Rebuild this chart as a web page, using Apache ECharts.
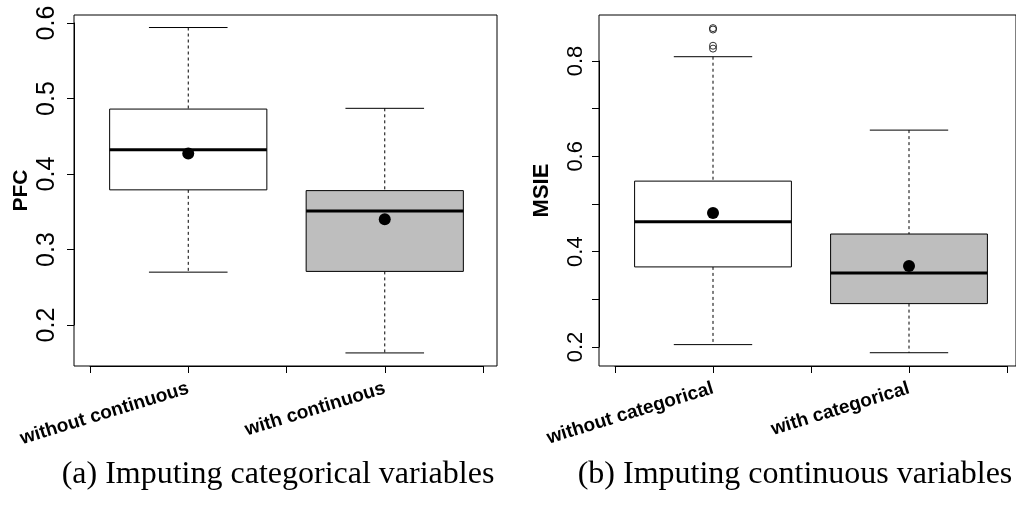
<!DOCTYPE html>
<html>
<head>
<meta charset="utf-8">
<script src="https://cdn.jsdelivr.net/npm/echarts@6/dist/echarts.min.js"></script>
<style>html,body{margin:0;padding:0;background:#fff;}#c{width:1016px;height:520px;}</style>
</head>
<body>
<div id="c"></div>
<script>
// ---- data ----
const categoriesA = ['without continuous', 'with continuous'];
const pfcLow  = [0.270, 0.163];
const pfcQ1   = [0.379, 0.271];
const pfcMed  = [0.432, 0.351];
const pfcQ3   = [0.486, 0.378];
const pfcHigh = [0.594, 0.487];
const pfcMean = [0.427, 0.340];

const categoriesB = ['without categorical', 'with categorical'];
const msieLow  = [0.205, 0.188];
const msieQ1   = [0.368, 0.291];
const msieMed  = [0.463, 0.355];
const msieQ3   = [0.548, 0.437];
const msieHigh = [0.809, 0.655];
const msieMean = [0.481, 0.370];
const msieOutliers = [[1, 0.869], [1, 0.866], [1, 0.832], [1, 0.826]];

const boxFills = ['#ffffff', '#bebebe'];
const yTickLabelsA = ['0.2', '0.3', '0.4', '0.5', '0.6'];
const yTickLabelsB = ['0.2', '0.4', '0.6', '0.8'];
const captions = ['(a) Imputing categorical variables', '(b) Imputing continuous variables'];

// ---- helpers ----
function buildBoxData(low, q1, med, q3, high, mean) {
  return low.map((_, i) => [i + 1, low[i], q1[i], med[i], q3[i], high[i], mean[i]]);
}
function renderBox(params, api) {
  const x = api.value(0);
  const c = v => api.coord([x, v]);
  const pLow = c(api.value(1)), pQ1 = c(api.value(2)), pMed = c(api.value(3)),
        pQ3 = c(api.value(4)), pHigh = c(api.value(5)), pMean = c(api.value(6));
  const cx = pMed[0];
  const halfBox = api.size([0.4, 0])[0];
  const halfCap = api.size([0.2, 0])[0];
  const dash = {stroke: '#000', lineWidth: 1, lineDash: [3, 3]};
  const solid = {stroke: '#000', lineWidth: 1};
  return {
    type: 'group',
    children: [
      {type: 'line', shape: {x1: cx, y1: pHigh[1], x2: cx, y2: pQ3[1]}, style: dash},
      {type: 'line', shape: {x1: cx, y1: pQ1[1], x2: cx, y2: pLow[1]}, style: dash},
      {type: 'line', shape: {x1: cx - halfCap, y1: pHigh[1], x2: cx + halfCap, y2: pHigh[1]}, style: solid},
      {type: 'line', shape: {x1: cx - halfCap, y1: pLow[1], x2: cx + halfCap, y2: pLow[1]}, style: solid},
      {type: 'rect', shape: {x: cx - halfBox, y: pQ3[1], width: 2 * halfBox, height: pQ1[1] - pQ3[1]},
        style: {fill: boxFills[params.dataIndex], stroke: '#000', lineWidth: 1}},
      {type: 'line', shape: {x1: cx - halfBox, y1: pMed[1], x2: cx + halfBox, y2: pMed[1]},
        style: {stroke: '#000', lineWidth: 3}},
      {type: 'circle', shape: {cx: pMean[0], cy: pMean[1], r: 6}, style: {fill: '#000'}}
    ]
  };
}
function catLabel(cats) {
  return v => {
    const i = Math.round(v * 2) / 2;
    return (Number.isInteger(i) && cats[i - 1]) ? cats[i - 1] : '';
  };
}
function yLabel(list) {
  return v => {
    const s = (Math.round(v * 10) / 10).toFixed(1);
    return list.indexOf(s) >= 0 ? s : '';
  };
}

const FONT = 'Liberation Sans, Arial, sans-serif';
const frameYAxis = (grid, name, gap, size) => ({
  gridIndex: grid, type: 'value', min: 0, max: 1,
  axisLine: {show: false}, axisTick: {show: false}, axisLabel: {show: false}, splitLine: {show: false},
  name: name, nameLocation: 'middle', nameGap: gap, nameRotate: 90,
  nameTextStyle: {fontFamily: FONT, fontWeight: 'bold', fontSize: size, color: '#000'}
});
const frameXAxis = grid => ({gridIndex: grid, type: 'value', min: 0, max: 1, show: false});
const dataXAxis = (grid, offset, cats) => ({
  gridIndex: grid, type: 'value', min: 0.5, max: 2.5, interval: 0.5, offset: offset,
  axisLine: {show: true, lineStyle: {color: '#000', width: 1}},
  axisTick: {show: true, length: 7, lineStyle: {color: '#000', width: 1}},
  splitLine: {show: false},
  axisLabel: {formatter: catLabel(cats), rotate: 17, margin: 22, fontFamily: FONT,
    fontWeight: 'bold', fontSize: 19, color: '#000'}
});
const dataYAxis = (grid, min, max, labels, size, margin) => ({
  gridIndex: grid, type: 'value', min: min, max: max, interval: 0.1, offset: 16,
  axisLine: {show: true, lineStyle: {color: '#000', width: 1}},
  axisTick: {show: true, length: 7, lineStyle: {color: '#000', width: 1}},
  splitLine: {show: false},
  axisLabel: {formatter: yLabel(labels), rotate: 90, margin: margin, fontFamily: FONT,
    fontSize: size, color: '#000'}
});

const chart = echarts.init(document.getElementById('c'), null, {renderer: 'canvas'});
chart.setOption({
  backgroundColor: '#fff',
  animation: false,
  grid: [
    {left: 74, top: 15, width: 423, height: 351, show: true, borderColor: '#000', borderWidth: 1},
    {left: 90, top: 23, width: 393, height: 302},
    {left: 599, top: 15, width: 424, height: 351, show: true, borderColor: '#000', borderWidth: 1},
    {left: 615, top: 61, width: 392, height: 286}
  ],
  xAxis: [frameXAxis(0), dataXAxis(1, 41, categoriesA), frameXAxis(2), dataXAxis(3, 19, categoriesB)],
  yAxis: [
    frameYAxis(0, 'PFC', 42, 21),
    dataYAxis(1, 0.2, 0.6, yTickLabelsA, 25, 14),
    frameYAxis(2, 'MSIE', 46, 22),
    dataYAxis(3, 0.2, 0.8, yTickLabelsB, 22, 12)
  ],
  series: [
    {type: 'custom', xAxisIndex: 1, yAxisIndex: 1, renderItem: renderBox, clip: false,
      encode: {x: 0, y: [1, 2, 3, 4, 5, 6]},
      data: buildBoxData(pfcLow, pfcQ1, pfcMed, pfcQ3, pfcHigh, pfcMean)},
    {type: 'custom', xAxisIndex: 3, yAxisIndex: 3, renderItem: renderBox, clip: false,
      encode: {x: 0, y: [1, 2, 3, 4, 5, 6]},
      data: buildBoxData(msieLow, msieQ1, msieMed, msieQ3, msieHigh, msieMean)},
    {type: 'scatter', xAxisIndex: 3, yAxisIndex: 3, symbol: 'circle', symbolSize: 7, clip: false,
      itemStyle: {color: 'rgba(0,0,0,0)', borderColor: '#000', borderWidth: 1},
      data: msieOutliers}
  ],
  graphic: [
    {type: 'text', x: 278, y: 475, style: {text: captions[0], textAlign: 'center', textVerticalAlign: 'middle',
      font: '32px "Liberation Serif", serif', fill: '#000'}},
    {type: 'text', x: 795, y: 475, style: {text: captions[1], textAlign: 'center', textVerticalAlign: 'middle',
      font: '32px "Liberation Serif", serif', fill: '#000'}}
  ]
});
</script>
</body>
</html>
